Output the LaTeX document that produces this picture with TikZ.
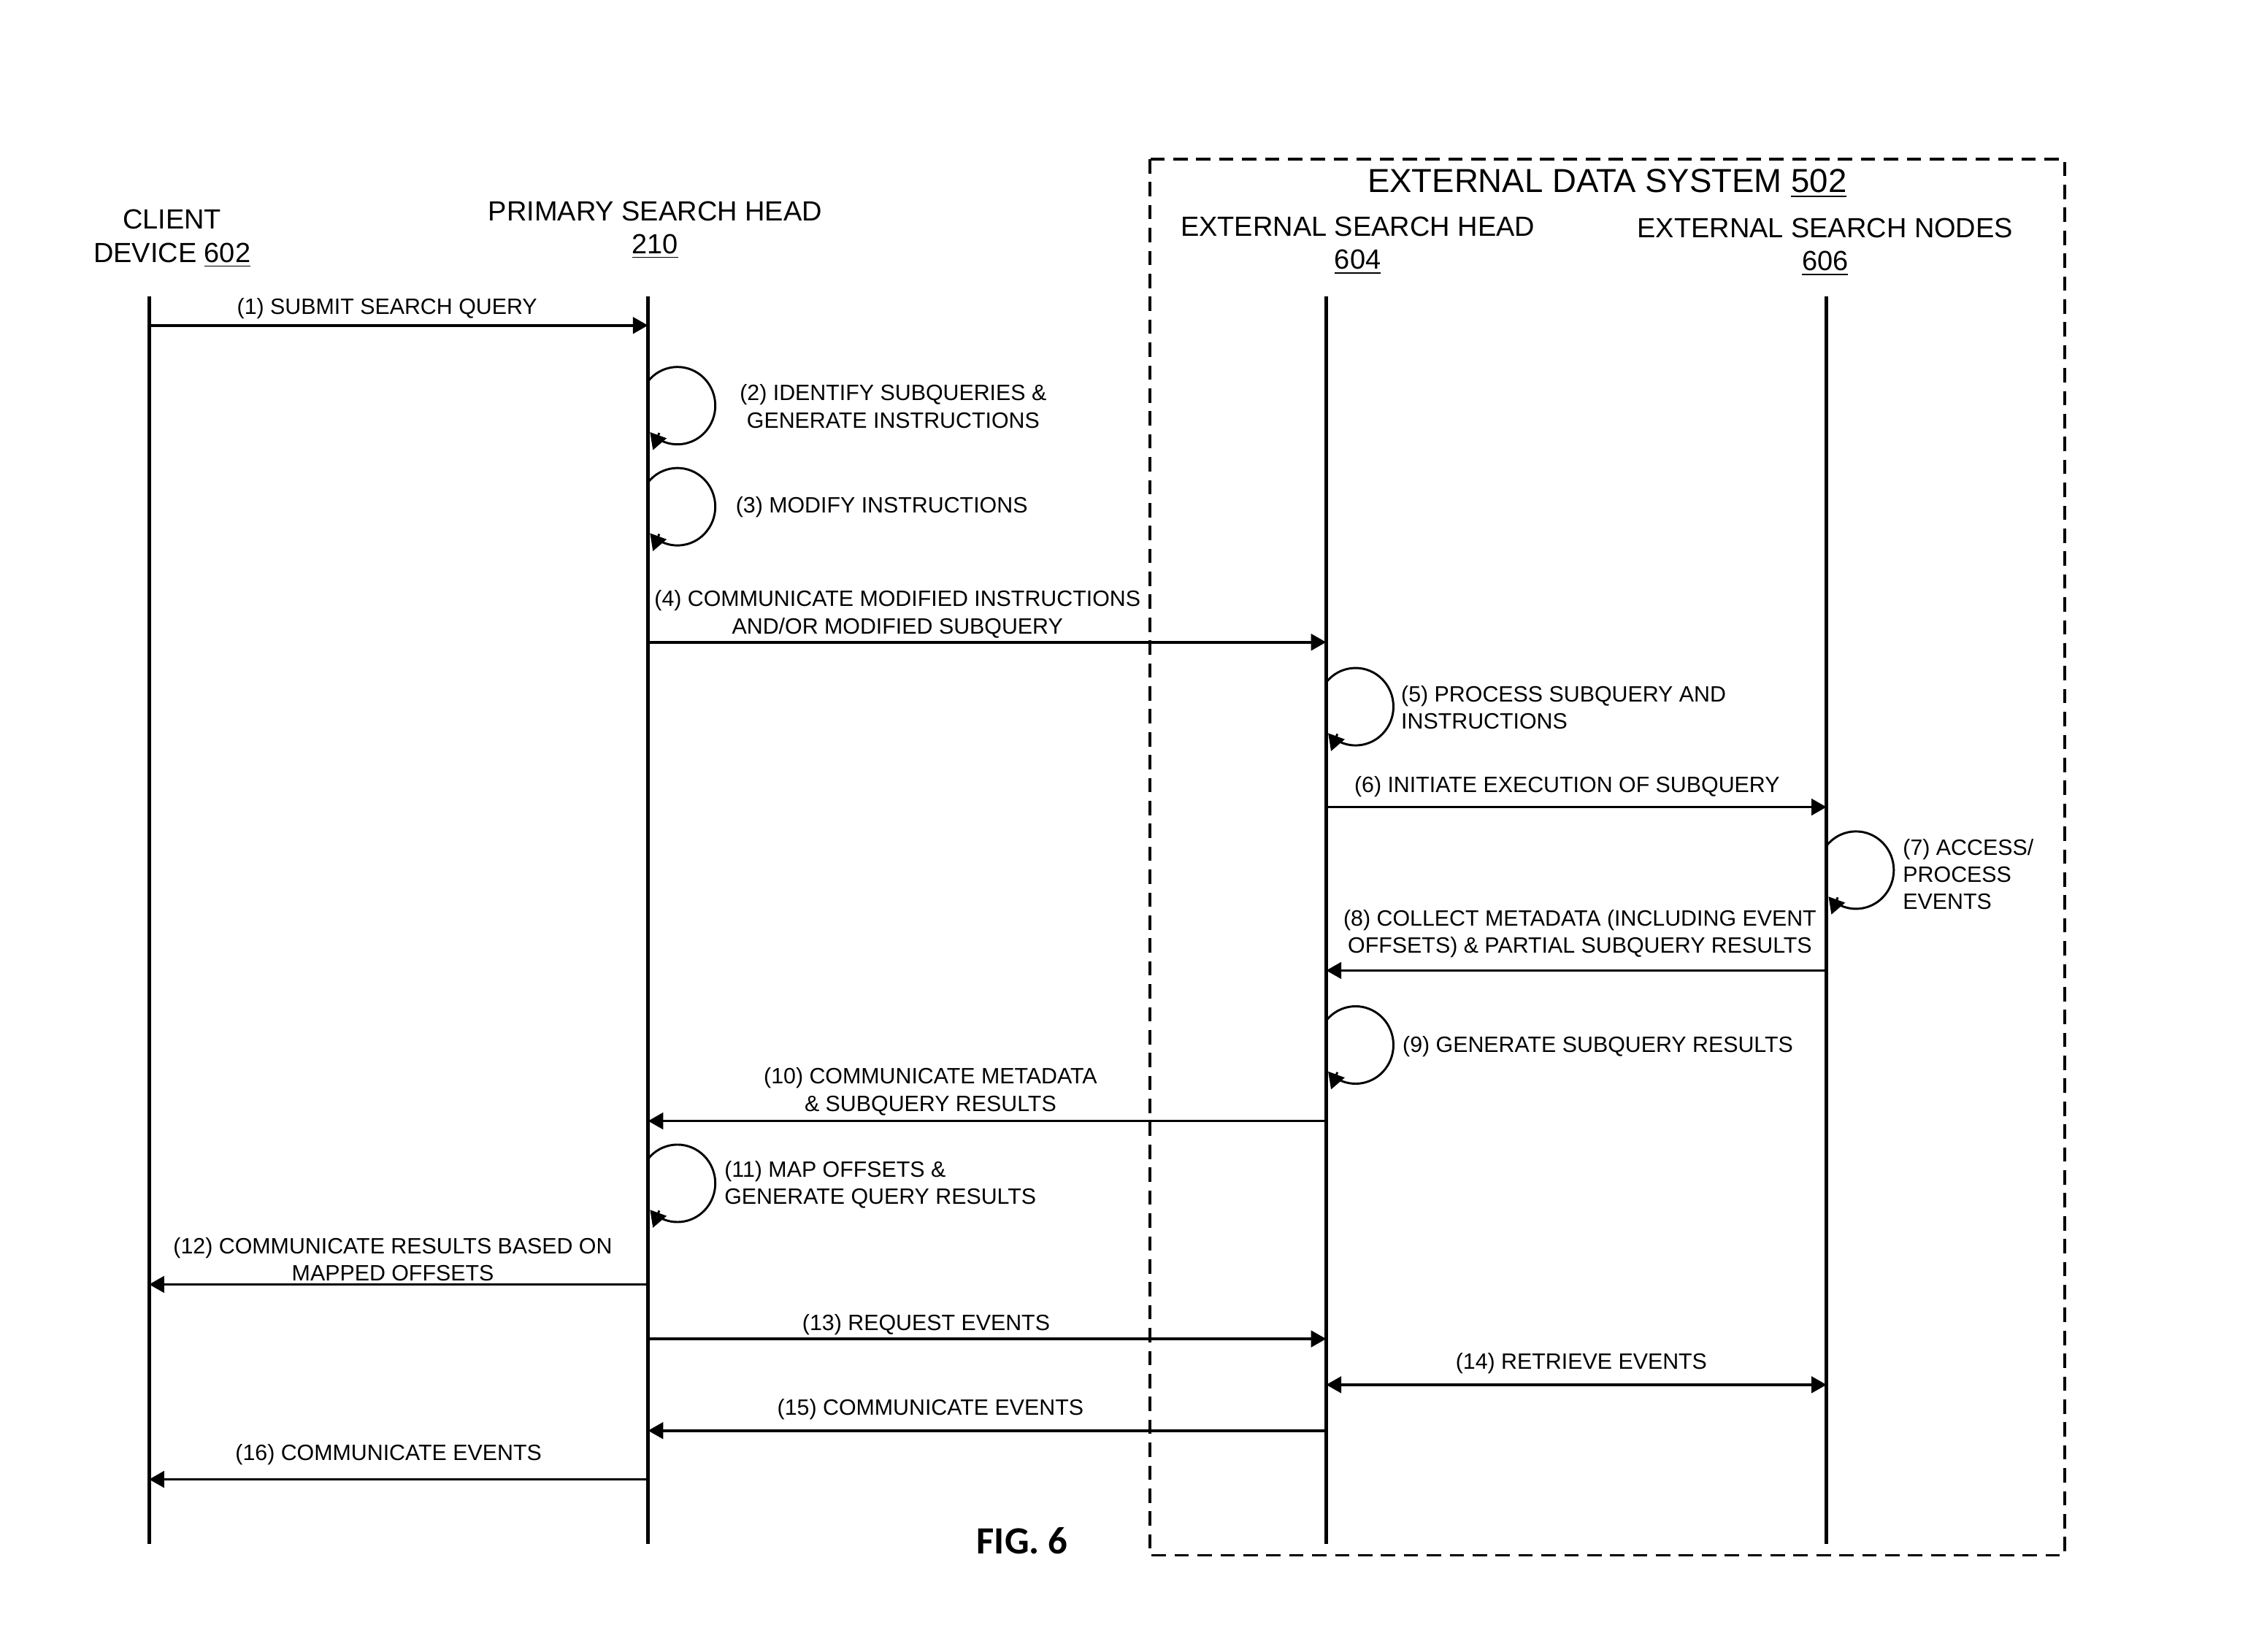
\documentclass[tikz,border=0pt]{standalone}
\usepackage{fontspec}
\setmainfont{Liberation Sans}
\newfontfamily\figfont{Carlito}
\usetikzlibrary{arrows.meta}

\begin{document}
\begin{tikzpicture}[%
    x=0.02cm,y=-0.02cm,%
    lifeline/.style={line width=1.4pt},%
    msg/.style={line width=1.05pt,-{Triangle[length=6pt,width=6.5pt]}},%
    twoway/.style={line width=1.05pt,{Triangle[length=6pt,width=6.5pt]}-{Triangle[length=6pt,width=6.5pt]}},%
    loopline/.style={line width=0.85pt},%
    looptip/.style={line width=0.85pt,-{Triangle[length=6.3pt,width=6.8pt]}},%
    extbox/.style={draw,line width=1.1pt,dash pattern=on 5.7pt off 3.4pt},%
    head/.style={inner sep=0,align=center,font=\fontsize{11}{13.1}\selectfont},%
    title/.style={inner sep=0,font=\fontsize{13.2}{15}\selectfont},%
    lbl/.style={inner sep=0,align=center,font=\fontsize{8.8}{10.8}\selectfont},%
    selfloop/.pic={%
        \draw[loopline] (0,-17) arc[start angle=-141,end angle=120,x radius=26.4,y radius=27];
        \draw[looptip] (7.8,19) -- (3.4,31);
    },%
]%
    \useasboundingbox (0,0) rectangle (1568,1152);

    % external data system frame
    \path[extbox] (802,111) rectangle (1440,1085);
    \node[title] (edsname) at (1121,128) {EXTERNAL DATA SYSTEM \underline{502}};

    % lifelines and their names
    \node[head] (cdname) at (120,166.5) {CLIENT\\DEVICE \underline{602}};
    \node[head] (pshname) at (457,160.5) {PRIMARY SEARCH HEAD\\\underline{210}};
    \node[head] (eshname) at (947,171.5) {EXTERNAL SEARCH HEAD\\\underline{604}};
    \node[head] (esnname) at (1273,172.5) {EXTERNAL SEARCH NODES\\\underline{606}};
    \coordinate (cd) at (104,207);
    \coordinate (psh) at (452,207);
    \coordinate (esh) at (925,207);
    \coordinate (esn) at (1274,207);
    \foreach \ll in {cd,psh,esh,esn}{%
        \draw[lifeline] (\ll) -- (\ll|-0,1077);
    }

    % messages
    \foreach \from/\to/\yy in {cd/psh/227,psh/esh/448,esh/esn/563,esn/esh/677,%
        esh/psh/782,psh/cd/896,psh/esh/934,esh/psh/998,psh/cd/1032}{%
        \draw[msg] (\from|-0,\yy) -- (\to|-0,\yy);
    }
    \draw[twoway] (esh|-0,966) -- (esn|-0,966);

    % self calls
    \pic at (psh|-0,283) {selfloop};
    \pic at (psh|-0,353.5) {selfloop};
    \pic at (esh|-0,493) {selfloop};
    \pic at (esn|-0,607) {selfloop};
    \pic at (esh|-0,729) {selfloop};
    \pic at (psh|-0,825.5) {selfloop};

    % step labels
    \node[lbl] (m1) at (270,215) {(1) SUBMIT SEARCH QUERY};
    \node[lbl] (m2) at (623,283.5) {(2) IDENTIFY SUBQUERIES \&\\GENERATE INSTRUCTIONS};
    \node[lbl] (m3) at (615,354) {(3) MODIFY INSTRUCTIONS};
    \node[lbl] (m4) at (626,428.5) {(4) COMMUNICATE MODIFIED INSTRUCTIONS\\AND/OR MODIFIED SUBQUERY};
    \node[lbl,align=left,anchor=west] (m5) at (977,493.5) {(5) PROCESS SUBQUERY AND\\INSTRUCTIONS};
    \node[lbl] (m6) at (1093,549) {(6) INITIATE EXECUTION OF SUBQUERY};
    \node[lbl,align=left,anchor=west] (m7) at (1327,610) {(7) ACCESS/\\PROCESS\\EVENTS};
    \node[lbl] (m8) at (1102,651.5) {(8) COLLECT METADATA (INCLUDING EVENT\\OFFSETS) \& PARTIAL SUBQUERY RESULTS};
    \node[lbl,anchor=west] (m9) at (978,730) {(9) GENERATE SUBQUERY RESULTS};
    \node[lbl] (m10) at (649,761.5) {(10) COMMUNICATE METADATA\\\& SUBQUERY RESULTS};
    \node[lbl,align=left,anchor=west] (m11) at (505,826.5) {(11) MAP OFFSETS \&\\GENERATE QUERY RESULTS};
    \node[lbl] (m12) at (274,878.5) {(12) COMMUNICATE RESULTS BASED ON\\MAPPED OFFSETS};
    \node[lbl] (m13) at (646,924) {(13) REQUEST EVENTS};
    \node[lbl] (m14) at (1103,951) {(14) RETRIEVE EVENTS};
    \node[lbl] (m15) at (649,983) {(15) COMMUNICATE EVENTS};
    \node[lbl] (m16) at (271,1015) {(16) COMMUNICATE EVENTS};

    \node[inner sep=0,font=\figfont\bfseries\fontsize{15.3}{18}\selectfont] (fig) at (713,1075) {FIG. 6};
\end{tikzpicture}
\end{document}
